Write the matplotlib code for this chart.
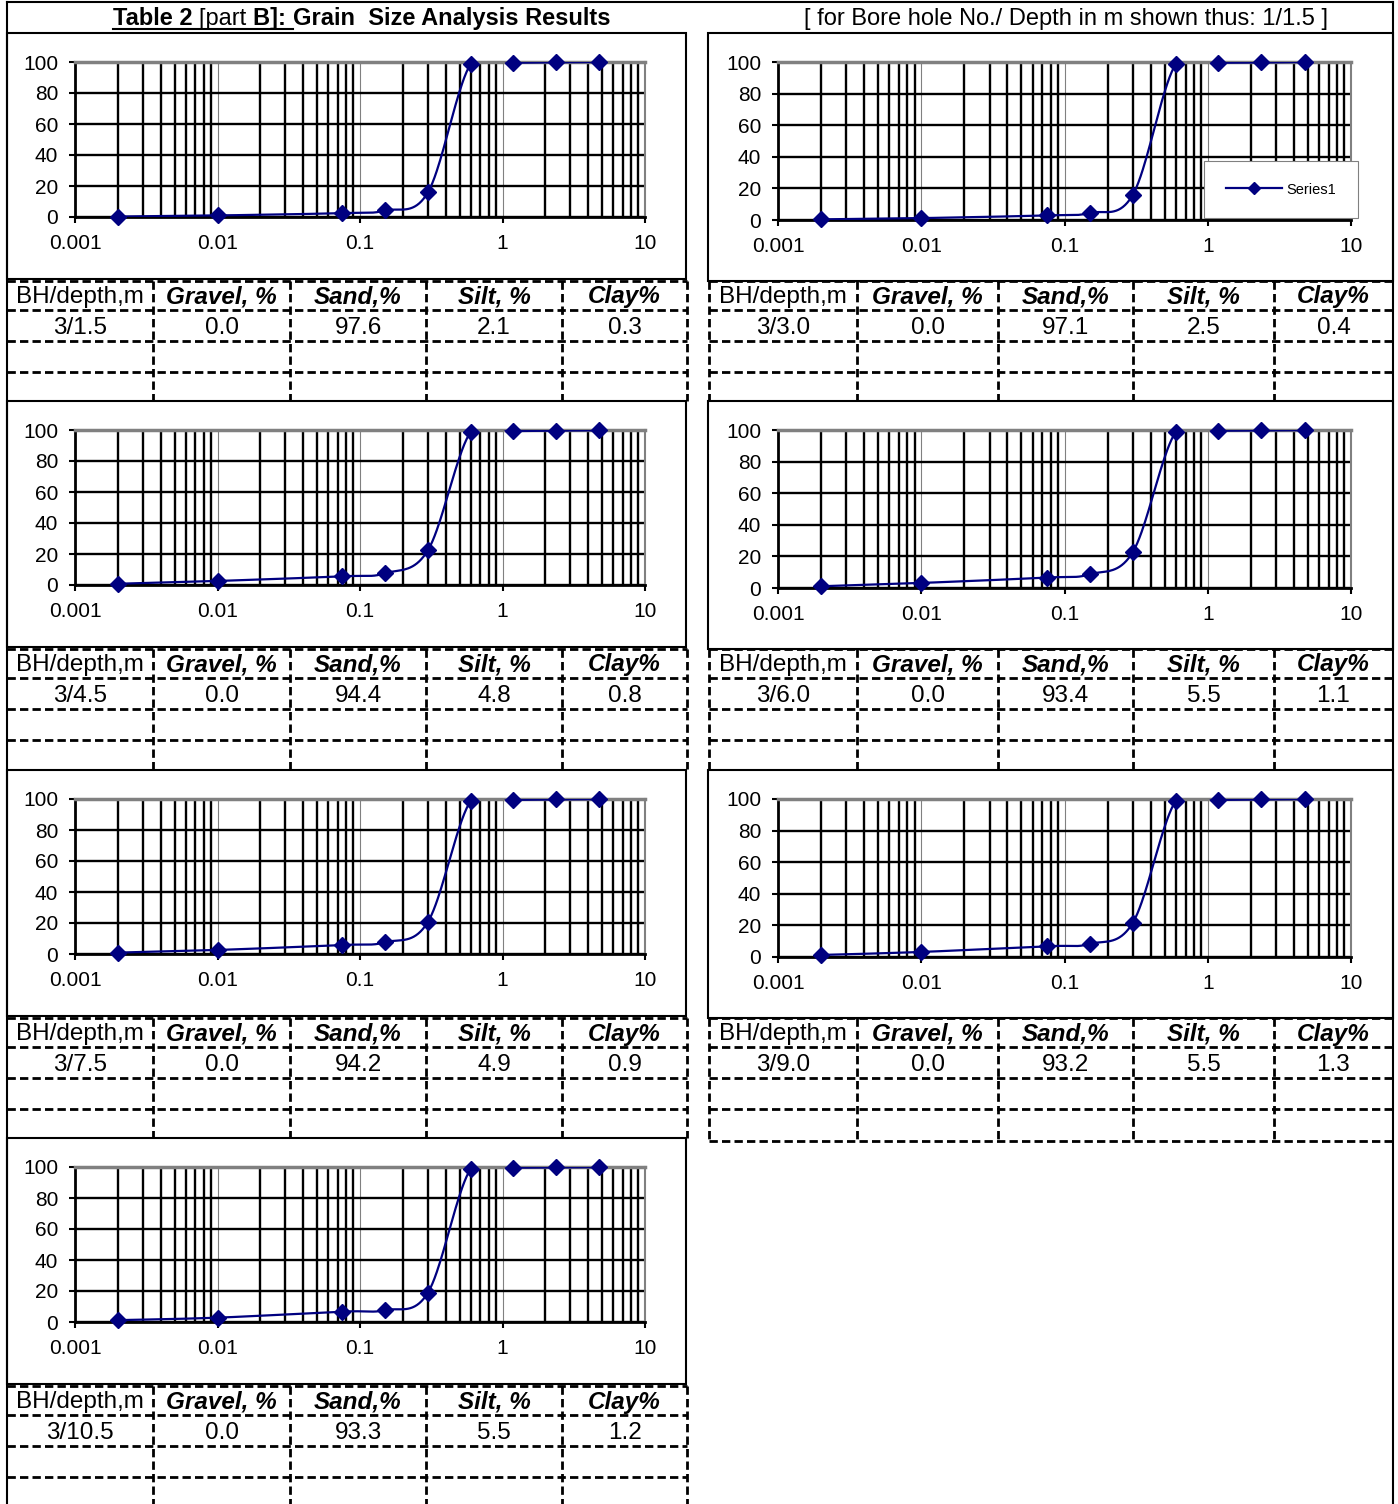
import numpy as np
import matplotlib
matplotlib.use("Agg")
import matplotlib.pyplot as plt
from matplotlib.lines import Line2D
from matplotlib.ticker import FixedLocator, LogLocator, NullFormatter

# sieve sizes (mm) and percent passing for each sample
sieve_mm = [0.002, 0.01, 0.075, 0.15, 0.3, 0.6, 1.18, 2.36, 4.75]
pass_1 = [0.3, 1.0, 2.5, 4.2, 16.0, 99.0, 99.5, 99.8, 100.0]
pass_2 = [0.4, 1.2, 2.9, 4.5, 16.0, 99.0, 99.5, 99.7, 100.0]
pass_3 = [0.8, 2.6, 5.6, 7.6, 22.5, 99.0, 99.3, 99.6, 99.8]
pass_4 = [1.1, 3.2, 6.6, 8.7, 22.8, 99.0, 99.5, 99.7, 99.9]
pass_5 = [0.9, 2.6, 5.8, 7.6, 20.8, 99.0, 99.4, 99.7, 99.9]
pass_6 = [1.3, 3.2, 6.8, 8.3, 21.7, 99.0, 99.4, 99.7, 99.9]
pass_7 = [1.2, 2.8, 6.7, 7.7, 19.0, 99.0, 99.5, 99.7, 99.9]
passing = [pass_1, pass_2, pass_3, pass_4, pass_5, pass_6, pass_7]

samples = ["3/1.5", "3/3.0", "3/4.5", "3/6.0", "3/7.5", "3/9.0", "3/10.5"]
gravel = [0.0, 0.0, 0.0, 0.0, 0.0, 0.0, 0.0]
sand = [97.6, 97.1, 94.4, 93.4, 94.2, 93.2, 93.3]
silt = [2.1, 2.5, 4.8, 5.5, 4.9, 5.5, 5.5]
clay = [0.3, 0.4, 0.8, 1.1, 0.9, 1.3, 1.2]

headers = ["BH/depth,m", "Gravel, %", "Sand,%", "Silt, %", "Clay%"]
x_ticks = [0.001, 0.01, 0.1, 1, 10]
x_tick_labels = ["0.001", "0.01", "0.1", "1", "10"]
y_ticks = [0, 20, 40, 60, 80, 100]

NAVY = "#000080"
GREY = "#808080"
W, H = 1398, 1504

plt.rcParams["font.family"] = ["Liberation Sans", "DejaVu Sans"]
fig = plt.figure(figsize=(W / 100, H / 100), dpi=100)


def rect(x0, y0, x1, y1):
    return [x0 / W, 1 - y1 / H, (x1 - x0) / W, (y1 - y0) / H]


def smooth(xs, ys, n=40):
    # excel-like smoothed line (bezier through points) in log-x space
    pts = np.column_stack([np.log10(xs), ys])
    P = np.vstack([pts[0], pts, pts[-1]])
    t = np.linspace(0, 1, n)[:, None]
    segs = []
    for i in range(1, len(P) - 2):
        p0, p1, p2, p3 = P[i - 1], P[i], P[i + 1], P[i + 2]
        c1 = p1 + (p2 - p0) / 6
        c2 = p2 - (p3 - p1) / 6
        segs.append((1 - t) ** 3 * p1 + 3 * (1 - t) ** 2 * t * c1
                    + 3 * (1 - t) * t ** 2 * c2 + t ** 3 * p2)
    s = np.vstack(segs)
    return 10 ** s[:, 0], s[:, 1]


# column geometry: box x-range, plot x-range, plot bottom offset, box height, table edges
cols = [
    dict(box=(7, 686), plot=(75, 645), bot=184, box_h=246,
         edges=[7, 153, 290, 426, 562, 687]),
    dict(box=(708, 1393), plot=(778, 1351), bot=187, box_h=248,
         edges=[709, 857, 998, 1133, 1274, 1393]),
]
panels = [(0, 33), (1, 33), (0, 401), (1, 401), (0, 770), (1, 770), (0, 1138)]

chart_axes = []
for i, (c, top) in enumerate(panels):
    g = cols[c]
    ax = fig.add_axes(rect(g["plot"][0], top + 29, g["plot"][1], top + g["bot"]))
    ax.set_xscale("log")
    ax.set_xlim(0.001, 10)
    ax.set_ylim(0, 100)
    ax.xaxis.set_major_locator(FixedLocator(x_ticks))
    ax.set_xticklabels(x_tick_labels)
    ax.xaxis.set_minor_locator(LogLocator(base=10, subs=np.arange(2, 10), numticks=20))
    ax.xaxis.set_minor_formatter(NullFormatter())
    ax.set_yticks(y_ticks)
    ax.grid(True, which="minor", axis="x", color="black", lw=1.7)
    ax.grid(True, which="major", axis="x", color=GREY, lw=0.8)
    ax.grid(True, which="major", axis="y", color="black", lw=1.7)
    ax.tick_params(which="minor", length=0)
    ax.tick_params(which="major", direction="out", length=4, width=1.5, labelsize=15)
    ax.tick_params(axis="y", pad=8)
    ax.tick_params(axis="x", pad=8)
    for side in ["left", "bottom"]:
        ax.spines[side].set_color("black")
        ax.spines[side].set_linewidth(2)
    ax.spines["top"].set_color(GREY)
    ax.spines["top"].set_linewidth(2.5)
    ax.spines["right"].set_color(GREY)
    ax.spines["right"].set_linewidth(1.5)

    sx, sy = smooth(sieve_mm, passing[i])
    ax.plot(sx, sy, color=NAVY, lw=1.6, zorder=3)
    ax.plot(sieve_mm, passing[i], ls="none", marker="D", ms=8, color=NAVY,
            clip_on=False, zorder=4)
    chart_axes.append(ax)

# legend only on the second chart
h = Line2D([], [], color=NAVY, lw=1.6, marker="D", ms=6)
leg = chart_axes[1].legend([h], ["Series1"], loc="center",
                           bbox_to_anchor=(1281 / W, 1 - 189.5 / H),
                           bbox_transform=fig.transFigure, fontsize=10.5,
                           fancybox=False, edgecolor=GREY, framealpha=1,
                           borderpad=1.5, handlelength=3.8, handletextpad=0.3)
leg.get_frame().set_linewidth(0.8)

# overlay for frames, tables and titles (pixel coordinates)
ov = fig.add_axes([0, 0, 1, 1])
ov.set_xlim(0, W)
ov.set_ylim(H, 0)
ov.axis("off")
ov.patch.set_alpha(0)

# page border
ov.plot([7, 1393], [2, 2], color="black", lw=1.5)
ov.plot([7, 7], [2, H], color="black", lw=1.5)
ov.plot([1393, 1393], [2, H], color="black", lw=1.5)

dash = (0, (3, 1.5))
for i, (c, top) in enumerate(panels):
    g = cols[c]
    bx0, bx1 = g["box"]
    ov.add_patch(plt.Rectangle((bx0, top), bx1 - bx0, g["box_h"], fill=False,
                               edgecolor="black", lw=1.5))
    e = g["edges"]
    if i == len(panels) - 1:
        tab_end = H
    elif i == 5:
        tab_end = top + 371
    else:
        tab_end = top + 368
    ys = [top + 248, top + 277, top + 308, top + 339]
    if i == 5:
        ys.append(tab_end)
    for y in ys:
        ov.plot([e[0], e[-1]], [y, y], color="black", lw=2, ls=dash)
    inner = e[1:-1] + ([e[-1]] if c == 0 else [e[0]])
    for x in inner:
        ov.plot([x, x], [top + 248, tab_end], color="black", lw=2, ls=dash)

    centers = [(e[k] + e[k + 1]) / 2 for k in range(5)]
    for k, txt in enumerate(headers):
        if k == 0:
            ov.text(centers[k], top + 264, txt, fontsize=17.5, ha="center", va="center")
        else:
            ov.text(centers[k], top + 264, txt, fontsize=17.5, ha="center", va="center",
                    fontweight="bold", fontstyle="italic")
    vals = [samples[i], f"{gravel[i]:.1f}", f"{sand[i]:.1f}", f"{silt[i]:.1f}", f"{clay[i]:.1f}"]
    for k, txt in enumerate(vals):
        ov.text(centers[k], top + 295, txt, fontsize=17.5, ha="center", va="center")

# title with mixed weights and underline
renderer = fig.canvas.get_renderer()
pieces = [("Table 2 ", "bold"), ("[part ", "normal"), ("B]: ", "bold"),
          ("Grain  Size Analysis Results", "bold")]
x = 113
underline_end = x
for k, (txt, wt) in enumerate(pieces):
    t = ov.text(x, 25, txt, fontsize=17, fontweight=wt, ha="left", va="baseline")
    bb = t.get_window_extent(renderer)
    x += bb.width
    if k == 2:
        underline_end = x
ov.plot([113, underline_end], [28.5, 28.5], color="black", lw=1.5)

ov.text(1066, 25, "[ for Bore hole No./ Depth in m shown thus: 1/1.5 ]", fontsize=17,
        ha="center", va="baseline")

fig.savefig("out.png", dpi=100)
